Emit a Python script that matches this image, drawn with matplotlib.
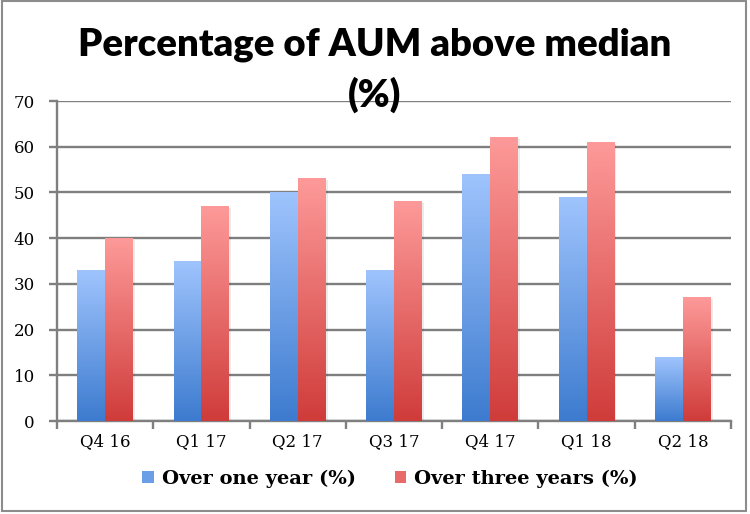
import numpy as np
import matplotlib.pyplot as plt
from matplotlib.patches import Rectangle, Patch
from matplotlib.colors import LinearSegmentedColormap

quarters = ["Q4 16", "Q1 17", "Q2 17", "Q3 17", "Q4 17", "Q1 18", "Q2 18"]
one_year = [33, 35, 50, 33, 54, 49, 14]
three_years = [40, 47, 53, 48, 62, 61, 27]

blue_cmap = LinearSegmentedColormap.from_list("b", ["#3d7bcf", "#9fc4fd"])
red_cmap = LinearSegmentedColormap.from_list("r", ["#cf3c3a", "#fd9a99"])

fig = plt.figure(figsize=(7.5, 5.14), dpi=100)
ax = fig.add_axes([57 / 750, 1 - 421 / 514, 674 / 750, 320 / 514])

x = np.arange(len(quarters))
w = 0.29
grad = np.linspace(0, 1, 256).reshape(-1, 1)

for xs, vals, cmap in [(x - w / 2, one_year, blue_cmap), (x + w / 2, three_years, red_cmap)]:
    bars = ax.bar(xs, vals, w, color="none", zorder=3)
    for b in bars:
        x0, h = b.get_x(), b.get_height()
        # soft shadow to the right
        ax.add_patch(Rectangle((x0 + 0.02, 0), w, h - 0.3, color="#000000", alpha=0.08,
                               lw=0, zorder=2))
        ax.imshow(grad, extent=[x0, x0 + w, 0, h], origin="lower", aspect="auto",
                  cmap=cmap, zorder=3)

ax.set_xlim(-0.5, len(quarters) - 0.5)
ax.set_ylim(0, 70)
ax.set_yticks(range(0, 71, 10))
ax.grid(axis="y", color="#7f7f7f", lw=1.7, zorder=1)
ax.set_xticks(np.arange(-0.5, len(quarters), 1))
ax.set_xticklabels([])
ax.set_xticks(x, minor=True)
ax.set_xticklabels(quarters, minor=True)
ax.tick_params(axis="x", which="minor", length=0, pad=9)
ax.tick_params(axis="x", which="major", length=6, width=1.7, color="#7f7f7f")
ax.tick_params(axis="y", length=6, width=1.7, color="#7f7f7f", pad=10)
for lab in ax.get_xticklabels(minor=True) + ax.get_yticklabels():
    lab.set_fontfamily("DejaVu Serif")
    lab.set_fontsize(12)
for s in ["top", "right"]:
    ax.spines[s].set_visible(False)
for s in ["left", "bottom"]:
    ax.spines[s].set_color("#7f7f7f")
    ax.spines[s].set_linewidth(1.7)

fig.text(0.5, 1 - 45 / 514, "Percentage of AUM above median", ha="center", va="center",
         fontsize=27.5, fontweight="heavy", family="Lato")
fig.text(0.5, 1 - 95 / 514, "(%)", ha="center", va="center",
         fontsize=27.5, fontweight="heavy", family="Lato")

handles = [Patch(facecolor="#6a9ee6", label="Over one year (%)"),
           Patch(facecolor="#e86b6a", label="Over three years (%)")]
fig.legend(handles=handles, loc="center", bbox_to_anchor=(0.52, 1 - 479 / 514), ncol=2,
           frameon=False, handlelength=0.6, handleheight=0.6, handletextpad=0.4,
           columnspacing=2.0, prop={"family": "DejaVu Serif", "weight": "bold", "size": 14})

fig.add_artist(Rectangle((0.003, 0.005), 0.992, 0.993, transform=fig.transFigure,
                         fill=False, ec="#8c8c8c", lw=1.5))

fig.savefig("out.png", dpi=100)
